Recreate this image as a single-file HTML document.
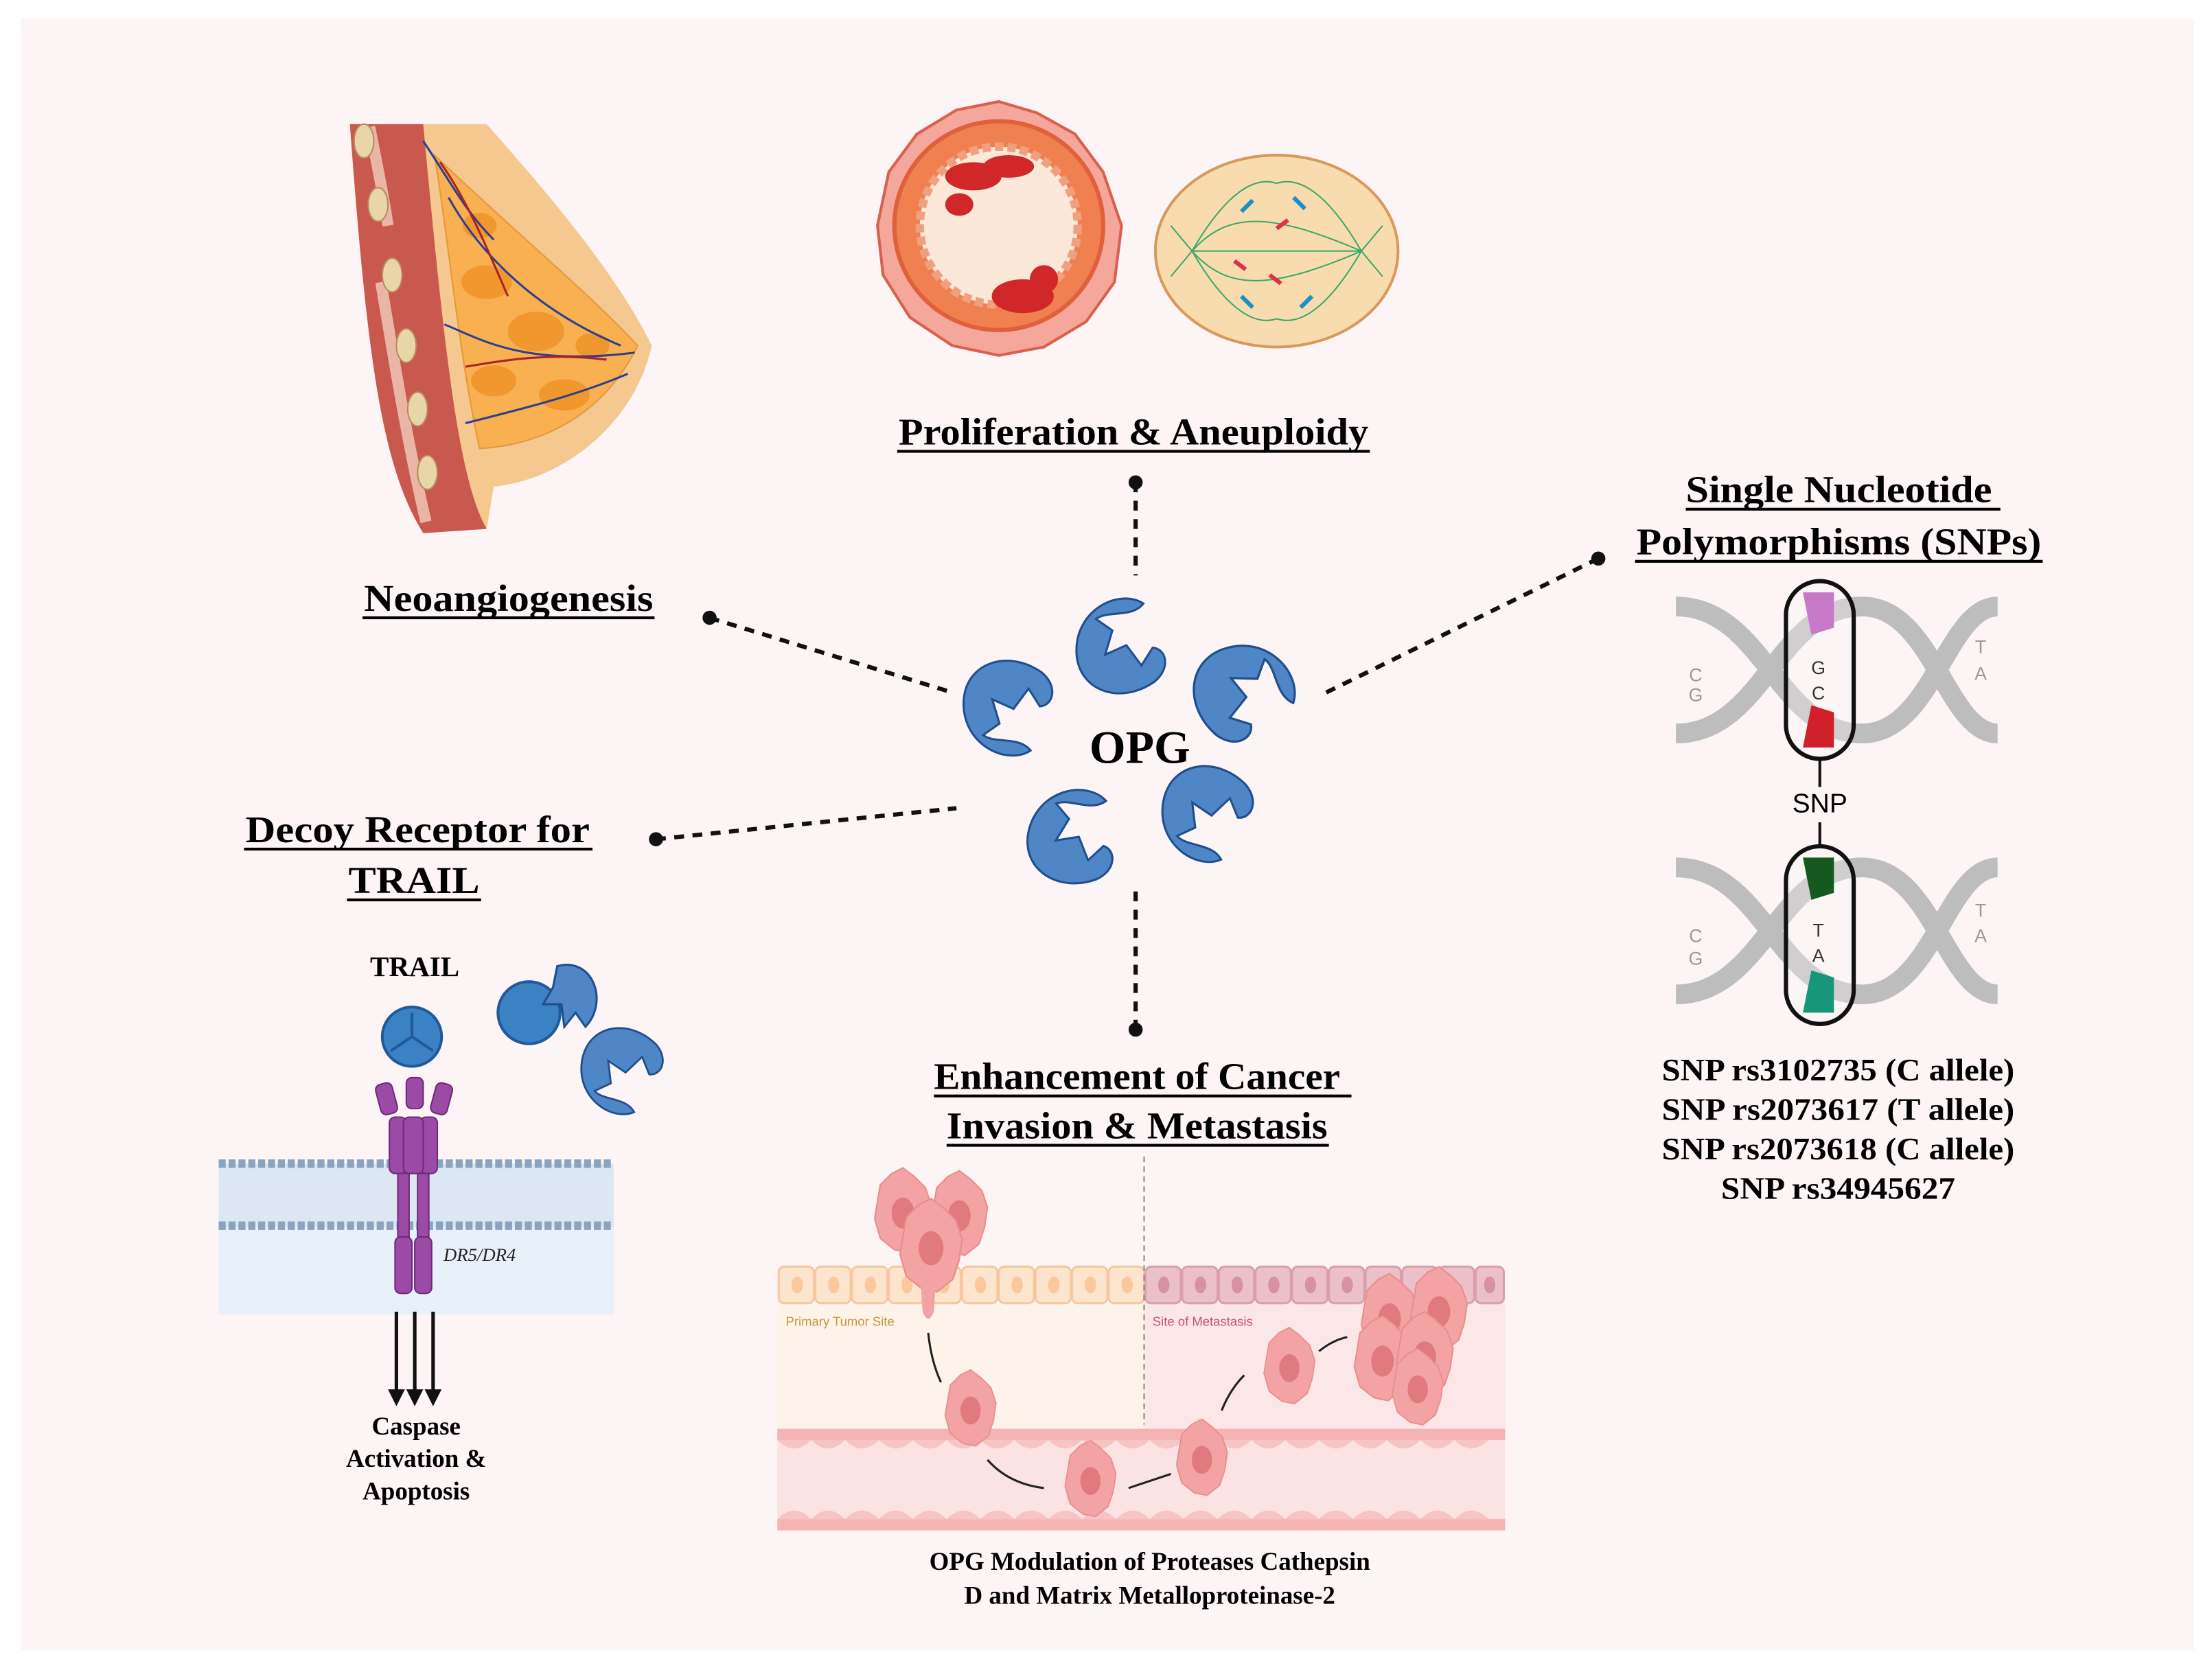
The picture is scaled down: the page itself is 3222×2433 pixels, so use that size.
<!DOCTYPE html>
<html><head><meta charset="utf-8"><style>
html,body{margin:0;padding:0;background:#fff;}
svg{display:block;}
.t{font-family:"Liberation Serif",serif;font-weight:bold;fill:#000;}
.s{font-family:"Liberation Sans",sans-serif;}
</style></head><body>
<svg width="3222" height="2433" viewBox="0 0 1568 1184" preserveAspectRatio="none" xmlns="http://www.w3.org/2000/svg">
<defs>
<path id="opg" d="M20,-24 C5,-38 -30,-28 -33,4 C-35,30 -8,44 18,32 C32,24 30,10 21,8 L11,19 L3,3 L-13,7 L-5,-9 L-15,-19 C-6,-24 10,-15 20,-24 Z" fill="#4f86c6" stroke="#1f4f8f" stroke-width="1.5"/>
<g id="cell"><path d="M-16,-20 L-8,-28 L0,-32 L8,-26 L16,-18 L20,-6 L18,8 L14,20 L4,28 L-6,26 L-16,18 L-20,4 Z" fill="#f3a3a3" stroke="#ea8d8d"/><ellipse cx="0" cy="0" rx="8" ry="11" fill="#e07a7e"/></g>
</defs>
<rect width="1568" height="1184" fill="#fff"/>
<rect x="15" y="13" width="1540" height="1157" fill="#fdf5f5"/>

<!-- Breast illustration -->
<g>
<path d="M248,88 L300,88 C310,150 330,200 345,230 L345,375 L300,378 C270,330 260,250 248,88 Z" fill="#c9584e"/>
<path d="M262,90 C268,120 272,140 275,160 M270,200 C280,260 290,320 302,370" stroke="#e9b6a6" stroke-width="8" fill="none"/>
<g fill="#e8d6a8" stroke="#b98b5f"><ellipse cx="258" cy="100" rx="7" ry="12"/><ellipse cx="268" cy="145" rx="7" ry="12"/><ellipse cx="278" cy="195" rx="7" ry="12"/><ellipse cx="288" cy="245" rx="7" ry="12"/><ellipse cx="296" cy="290" rx="7" ry="12"/><ellipse cx="303" cy="335" rx="7" ry="12"/></g>
<path d="M300,88 L345,88 C400,150 440,200 462,245 C450,300 400,340 350,345 L345,375 C325,340 315,250 300,88 Z" fill="#f5c890"/>
<path d="M308,110 C360,160 420,210 452,245 C430,290 390,315 340,318 C325,250 318,170 308,110 Z" fill="#f8b050" stroke="#e8963a"/>
<g fill="#f0982e"><ellipse cx="345" cy="200" rx="18" ry="12"/><ellipse cx="380" cy="235" rx="20" ry="14"/><ellipse cx="350" cy="270" rx="16" ry="11"/><ellipse cx="400" cy="280" rx="18" ry="11"/><ellipse cx="340" cy="160" rx="12" ry="9"/><ellipse cx="420" cy="245" rx="12" ry="9"/></g>
<path d="M318,140 C340,180 380,220 440,245 M315,230 C340,240 370,260 450,250 M330,300 C370,290 410,280 445,265 M300,100 C320,130 330,150 350,170" stroke="#2d3f8f" stroke-width="1.5" fill="none"/>
<path d="M312,115 C330,140 345,175 360,210 M330,260 C360,255 390,250 430,255" stroke="#a8242c" stroke-width="1.5" fill="none"/>
</g>

<!-- Proliferation: tissue ring -->
<g>
<path d="M708,72 L735,80 L762,95 L782,122 L795,160 L790,200 L770,228 L740,246 L708,252 L675,245 L645,225 L626,195 L622,160 L630,122 L650,95 L678,78 Z" fill="#f4a79a" stroke="#d8604f" stroke-width="2"/>
<circle cx="708" cy="160" r="74" fill="#f08050" stroke="#e0603c" stroke-width="3"/>
<circle cx="708" cy="160" r="56" fill="#fbe8d8" stroke="#f0a080" stroke-width="6" stroke-dasharray="6 3"/>
<g fill="#d02828"><ellipse cx="690" cy="125" rx="20" ry="10"/><ellipse cx="715" cy="118" rx="18" ry="8"/><ellipse cx="680" cy="145" rx="10" ry="8"/><ellipse cx="725" cy="210" rx="22" ry="12"/><ellipse cx="740" cy="198" rx="10" ry="10"/></g>
</g>
<!-- Mitosis cell -->
<g>
<ellipse cx="905" cy="178" rx="86" ry="68" fill="#f8dcb0" stroke="#d89a5c" stroke-width="2"/>
<g stroke="#3aa86a" stroke-width="1" fill="none">
<path d="M845,178 C870,150 900,150 965,178 M845,178 C870,206 900,206 965,178 M845,178 L965,178 M845,178 C870,135 890,125 905,130 M845,178 C870,221 890,231 905,226 M965,178 C940,135 920,125 905,130 M965,178 C940,221 920,231 905,226 M845,178 L830,160 M845,178 L830,196 M965,178 L980,160 M965,178 L980,196"/>
</g>
<g stroke="#1a8fc8" stroke-width="3" fill="none"><path d="M880,150 l8,-8 M925,148 l-8,-8 M880,210 l8,8 M930,210 l-8,8"/></g>
<g stroke="#e0304a" stroke-width="3" fill="none"><path d="M905,162 l8,-6 M900,195 l8,6 M875,185 l8,6"/></g>
</g>

<!-- Titles -->
<g class="t" font-size="27">
<text x="637" y="315" textLength="333" lengthAdjust="spacingAndGlyphs">Proliferation &amp; Aneuploidy</text>
<text x="258" y="433" textLength="205" lengthAdjust="spacingAndGlyphs">Neoangiogenesis</text>
<text x="1195" y="356" textLength="217" lengthAdjust="spacingAndGlyphs">Single Nucleotide</text>
<text x="1160" y="393" textLength="287" lengthAdjust="spacingAndGlyphs">Polymorphisms (SNPs)</text>
<text x="174" y="597" textLength="244" lengthAdjust="spacingAndGlyphs">Decoy Receptor for</text>
<text x="247" y="633" textLength="93" lengthAdjust="spacingAndGlyphs">TRAIL</text>
<text x="662" y="772" textLength="288" lengthAdjust="spacingAndGlyphs">Enhancement of Cancer</text>
<text x="671" y="807" textLength="270" lengthAdjust="spacingAndGlyphs">Invasion &amp; Metastasis</text>
</g>
<g stroke="#000" stroke-width="2">
<line x1="636" y1="320" x2="971" y2="320"/>
<line x1="257" y1="438" x2="464" y2="438"/>
<line x1="1195" y1="361" x2="1418" y2="361"/>
<line x1="1159" y1="398" x2="1448" y2="398"/>
<line x1="173" y1="602" x2="420" y2="602"/>
<line x1="246" y1="638" x2="341" y2="638"/>
<line x1="662" y1="777" x2="958" y2="777"/>
<line x1="671" y1="812" x2="942" y2="812"/>
</g>

<!-- Connectors -->
<g stroke="#111" stroke-width="3" stroke-dasharray="7 6" fill="none">
<line x1="805" y1="342" x2="805" y2="408"/>
<line x1="503" y1="438" x2="672" y2="490"/>
<line x1="1133" y1="396" x2="938" y2="492"/>
<line x1="465" y1="595" x2="678" y2="573"/>
<line x1="805" y1="632" x2="805" y2="730"/>
</g>
<g fill="#111"><circle cx="805" cy="342" r="5"/><circle cx="503" cy="438" r="5"/><circle cx="1133" cy="396" r="5"/><circle cx="465" cy="595" r="5"/><circle cx="805" cy="730" r="5"/></g>

<!-- OPG cluster -->
<use href="#opg" transform="translate(795,455) rotate(-10)"/>
<use href="#opg" transform="translate(885,490) rotate(65) scale(1.05)"/>
<use href="#opg" transform="translate(715,505) rotate(190) scale(-1,1)"/>
<use href="#opg" transform="translate(762,590) rotate(5)"/>
<use href="#opg" transform="translate(855,580) rotate(200) scale(-1,1)"/>
<text class="t" x="808" y="541" font-size="33" text-anchor="middle">OPG</text>

<!-- SNPs DNA -->
<g>
<g fill="none" stroke="#bdbdbd" stroke-width="14">
<path d="M1188,430 C1250,430 1260,520 1320,520 C1370,520 1380,430 1416,430"/>
<path d="M1188,520 C1250,520 1260,430 1320,430 C1370,430 1380,520 1416,520"/>
<path d="M1188,615 C1250,615 1260,705 1320,705 C1370,705 1380,615 1416,615"/>
<path d="M1188,705 C1250,705 1260,615 1320,615 C1370,615 1380,705 1416,705"/>
</g>
<g class="s" font-size="13" fill="#999" text-anchor="middle"><text x="1202" y="483">C</text><text x="1202" y="497">G</text><text x="1404" y="463">T</text><text x="1404" y="482">A</text><text x="1202" y="668">C</text><text x="1202" y="684">G</text><text x="1404" y="650">T</text><text x="1404" y="668">A</text></g>
<rect x="1266" y="412" width="48" height="126" rx="24" fill="#fdf5f5" fill-opacity="0.3" stroke="#111" stroke-width="3"/>
<path d="M1278,420 L1300,420 L1300,445 L1284,450 Z" fill="#c878c8"/>
<path d="M1278,530 L1300,530 L1300,505 L1284,500 Z" fill="#d0202a"/>
<text class="s" x="1289" y="478" font-size="13" fill="#333" text-anchor="middle">G</text>
<text class="s" x="1289" y="496" font-size="13" fill="#333" text-anchor="middle">C</text>
<line x1="1290" y1="538" x2="1290" y2="558" stroke="#111" stroke-width="2"/>
<text class="s" x="1290" y="576" font-size="19" fill="#000" text-anchor="middle">SNP</text>
<line x1="1290" y1="583" x2="1290" y2="600" stroke="#111" stroke-width="2"/>
<rect x="1266" y="600" width="48" height="126" rx="24" fill="#fdf5f5" fill-opacity="0.3" stroke="#111" stroke-width="3"/>
<path d="M1278,608 L1300,608 L1300,633 L1284,638 Z" fill="#145a20"/>
<path d="M1278,718 L1300,718 L1300,693 L1284,688 Z" fill="#17967a"/>
<text class="s" x="1289" y="664" font-size="13" fill="#333" text-anchor="middle">T</text>
<text class="s" x="1289" y="682" font-size="13" fill="#333" text-anchor="middle">A</text>
</g>
<g class="t" font-size="22">
<text x="1178" y="766" textLength="250" lengthAdjust="spacingAndGlyphs">SNP rs3102735 (C allele)</text>
<text x="1178" y="794" textLength="250" lengthAdjust="spacingAndGlyphs">SNP rs2073617 (T allele)</text>
<text x="1178" y="822" textLength="250" lengthAdjust="spacingAndGlyphs">SNP rs2073618 (C allele)</text>
<text x="1220" y="850" textLength="166" lengthAdjust="spacingAndGlyphs">SNP rs34945627</text>
</g>

<!-- TRAIL section -->
<g>
<rect x="155" y="825" width="280" height="107" fill="#e8f0fa"/>
<rect x="155" y="825" width="280" height="45" fill="#dbe7f3"/>
<line x1="155" y1="825" x2="435" y2="825" stroke="#8aa4c0" stroke-width="6" stroke-dasharray="5 2"/>
<line x1="155" y1="869" x2="435" y2="869" stroke="#8aa4c0" stroke-width="6" stroke-dasharray="5 2"/>
<text class="t" x="294" y="692" font-size="20" text-anchor="middle">TRAIL</text>
<circle cx="292" cy="735" r="21" fill="#3b82c4" stroke="#1f5a9a" stroke-width="2"/>
<path d="M292,735 L292,718 M292,735 L277,745 M292,735 L307,745" stroke="#1f5a9a" stroke-width="2"/>
<g fill="#9b4aa6" stroke="#6e2a7a">
<rect x="268" y="768" width="12" height="22" rx="4" transform="rotate(-15 274 779)"/>
<rect x="288" y="764" width="12" height="22" rx="4"/>
<rect x="307" y="768" width="12" height="22" rx="4" transform="rotate(15 313 779)"/>
<rect x="276" y="792" width="12" height="40" rx="4"/><rect x="298" y="792" width="12" height="40" rx="4"/>
<rect x="286" y="792" width="14" height="40" rx="4"/>
<rect x="282" y="832" width="8" height="45" /><rect x="296" y="832" width="8" height="45"/>
<rect x="280" y="877" width="12" height="40" rx="4"/><rect x="294" y="877" width="12" height="40" rx="4"/>
</g>
<text x="340" y="894" font-family="Liberation Serif,serif" font-style="italic" font-size="13" fill="#222" text-anchor="middle">DR5/DR4</text>
<g>
<circle cx="375" cy="718" r="22" fill="#3b82c4" stroke="#1f5a9a" stroke-width="2"/>
<path d="M395,685 C420,678 432,710 415,728 L408,718 L400,728 L398,712 L385,712 L392,700 Z" fill="#4f86c6" stroke="#1f4f8f" stroke-width="1.5"/>
</g>
<use href="#opg" transform="translate(440,762) rotate(200) scale(-0.9,0.9)"/>
<g stroke="#111" stroke-width="2.5"><line x1="281" y1="930" x2="281" y2="990"/><line x1="294" y1="930" x2="294" y2="990"/><line x1="307" y1="930" x2="307" y2="990"/></g>
<g fill="#111"><path d="M275,985 L287,985 L281,997 Z"/><path d="M288,985 L300,985 L294,997 Z"/><path d="M301,985 L313,985 L307,997 Z"/></g>
<g class="t" font-size="18" text-anchor="middle"><text x="295" y="1017">Caspase</text><text x="295" y="1040">Activation &amp;</text><text x="295" y="1063">Apoptosis</text></g>
</g>

<!-- Metastasis diagram -->
<g>
<rect x="551" y="920" width="260" height="95" fill="#fdf3e9"/>
<rect x="811" y="920" width="256" height="95" fill="#fbe7e7"/>
<rect x="551" y="1015" width="516" height="70" fill="#fbe3e3"/>
<g stroke="#f7c7a0" stroke-width="1.5" fill="#fde4cc">
<rect x="552" y="898" width="25" height="26" rx="4"/><rect x="578" y="898" width="25" height="26" rx="4"/><rect x="604" y="898" width="25" height="26" rx="4"/><rect x="630" y="898" width="25" height="26" rx="4"/><rect x="656" y="898" width="25" height="26" rx="4"/><rect x="682" y="898" width="25" height="26" rx="4"/><rect x="708" y="898" width="25" height="26" rx="4"/><rect x="734" y="898" width="25" height="26" rx="4"/><rect x="760" y="898" width="25" height="26" rx="4"/><rect x="786" y="898" width="25" height="26" rx="4"/>
</g>
<g stroke="#d9a0ac" stroke-width="1.5" fill="#ecc0c8">
<rect x="812" y="898" width="25" height="26" rx="4"/><rect x="838" y="898" width="25" height="26" rx="4"/><rect x="864" y="898" width="25" height="26" rx="4"/><rect x="890" y="898" width="25" height="26" rx="4"/><rect x="916" y="898" width="25" height="26" rx="4"/><rect x="942" y="898" width="25" height="26" rx="4"/><rect x="968" y="898" width="25" height="26" rx="4"/><rect x="994" y="898" width="25" height="26" rx="4"/><rect x="1020" y="898" width="25" height="26" rx="4"/><rect x="1046" y="898" width="20" height="26" rx="4"/>
</g>
<g fill="#fbc79c"><ellipse cx="565" cy="911" rx="4" ry="6"/><ellipse cx="591" cy="911" rx="4" ry="6"/><ellipse cx="617" cy="911" rx="4" ry="6"/><ellipse cx="643" cy="911" rx="4" ry="6"/><ellipse cx="669" cy="911" rx="4" ry="6"/><ellipse cx="695" cy="911" rx="4" ry="6"/><ellipse cx="721" cy="911" rx="4" ry="6"/><ellipse cx="747" cy="911" rx="4" ry="6"/><ellipse cx="773" cy="911" rx="4" ry="6"/><ellipse cx="799" cy="911" rx="4" ry="6"/></g>
<g fill="#d692a0"><ellipse cx="825" cy="911" rx="4" ry="6"/><ellipse cx="851" cy="911" rx="4" ry="6"/><ellipse cx="877" cy="911" rx="4" ry="6"/><ellipse cx="903" cy="911" rx="4" ry="6"/><ellipse cx="929" cy="911" rx="4" ry="6"/><ellipse cx="955" cy="911" rx="4" ry="6"/><ellipse cx="1056" cy="911" rx="4" ry="6"/></g>
<rect x="551" y="1013" width="516" height="8" fill="#f4b4b4"/>
<rect x="551" y="1077" width="516" height="8" fill="#f4b4b4"/>
<path d="M551,1021 q12,12 24,0 q12,12 24,0 q12,12 24,0 q12,12 24,0 q12,12 24,0 q12,12 24,0 q12,12 24,0 q12,12 24,0 q12,12 24,0 q12,12 24,0 q12,12 24,0 q12,12 24,0 q12,12 24,0 q12,12 24,0 q12,12 24,0 q12,12 24,0 q12,12 24,0 q12,12 24,0 q12,12 24,0 q12,12 24,0 q12,12 24,0 l0,0" fill="#f7c4c4"/>
<path d="M551,1077 q12,-12 24,0 q12,-12 24,0 q12,-12 24,0 q12,-12 24,0 q12,-12 24,0 q12,-12 24,0 q12,-12 24,0 q12,-12 24,0 q12,-12 24,0 q12,-12 24,0 q12,-12 24,0 q12,-12 24,0 q12,-12 24,0 q12,-12 24,0 q12,-12 24,0 q12,-12 24,0 q12,-12 24,0 q12,-12 24,0 q12,-12 24,0 q12,-12 24,0 q12,-12 24,0" fill="#f7c4c4"/>
<line x1="811" y1="820" x2="811" y2="1010" stroke="#888" stroke-width="1" stroke-dasharray="4 3"/>
<text class="s" x="557" y="940" font-size="9" fill="#c9973a">Primary Tumor Site</text>
<text class="s" x="817" y="940" font-size="9" fill="#c8507a">Site of Metastasis</text>
<use href="#cell" transform="translate(640,860)"/><use href="#cell" transform="translate(680,862)"/><use href="#cell" transform="translate(660,885) scale(1.1)"/>
<path d="M652,900 L664,900 L662,930 Q658,940 654,930 Z" fill="#f3a3a3"/>
<use href="#cell" transform="translate(688,1000) scale(0.9)"/>
<use href="#cell" transform="translate(773,1050) scale(0.9)"/>
<use href="#cell" transform="translate(852,1035) scale(0.9)"/>
<use href="#cell" transform="translate(914,970) scale(0.9)"/>
<use href="#cell" transform="translate(985,935)"/><use href="#cell" transform="translate(1020,930)"/><use href="#cell" transform="translate(980,965)"/><use href="#cell" transform="translate(1010,962)"/><use href="#cell" transform="translate(1005,985) scale(0.9)"/>
<g stroke="#222" stroke-width="1.5" fill="none"><path d="M658,945 Q660,965 667,980"/><path d="M700,1035 Q715,1052 740,1055"/><path d="M800,1055 Q815,1050 830,1045"/><path d="M866,1000 Q872,985 882,975"/><path d="M935,958 Q945,950 955,948"/></g>
<g class="t" font-size="18" text-anchor="middle"><text x="815" y="1113">OPG Modulation of Proteases Cathepsin</text><text x="815" y="1137">D and Matrix Metalloproteinase-2</text></g>
</g>
</svg>
</body></html>
